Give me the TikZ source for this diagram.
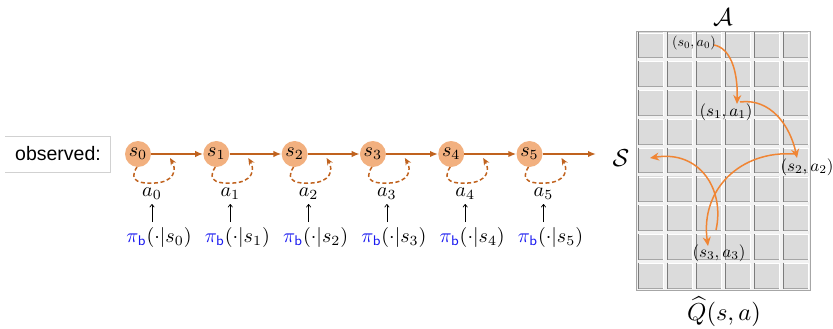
\documentclass[tikz,border=0pt]{standalone}
\usepackage{fontspec}
\newfontfamily\obsfont{Liberation Sans}
\usetikzlibrary{arrows.meta,calc}
\definecolor{chainc}{HTML}{C0621E}
\definecolor{nodefill}{HTML}{F2B07F}
\definecolor{gridarrow}{HTML}{F08534}
\definecolor{tile}{HTML}{DBDBDB}
\definecolor{tiledark}{HTML}{7C7C7C}
\definecolor{tilemid}{HTML}{A6A6A6}
\definecolor{pibl}{HTML}{1A1AF0}
\newcommand{\Bm}[1]{\scalebox{2.0}{$#1$}}
\newcommand{\Lm}[1]{\scalebox{2.45}{$#1$}}
\newcommand{\Gm}[1]{\scalebox{1.7}{$#1$}}
\newcommand{\Gs}[1]{\scalebox{1.4}{$#1$}}
\tikzset{
  state/.style={circle,fill=nodefill,minimum size=26pt,inner sep=0pt},
  lbl/.style={inner sep=1pt},
  chain/.style={draw=chainc,line width=1.7pt,-{Latex[length=8pt,width=6.5pt]}},
  selfloop/.style={draw=chainc,line width=1.5pt,dash pattern=on 4pt off 2.6pt,-{Stealth[length=7pt,width=6pt]}},
  uparr/.style={draw=black,line width=0.7pt,-{To[length=3.5pt,width=5pt]}},
  garrow/.style={draw=gridarrow,line width=1.5pt,-{Stealth[length=9pt,width=8pt]}},
}
\begin{document}
\begin{tikzpicture}[x=1pt,y=-1pt]
\useasboundingbox (0,0) rectangle (833,329);
% observed box
\node[font=\obsfont\fontsize{19.5}{22}\selectfont,inner sep=0pt] (obs) at (58,154) {observed:};
\draw[draw=black!18,line width=0.8pt] (5,136) -- (110,136) -- (110,172) -- (5,172);
% chain
\foreach \i/\x in {0/138,1/216.3,2/294.6,3/372.9,4/451.2,5/529.5}{
  \node[state] (s\i) at (\x,154) {\Bm{s_{\i}}};
  \node[lbl] (a\i) at (\x+14,194) {\Bm{a_{\i}}};
  \node[lbl] (p\i) at (\x+21,237) {\Bm{\textcolor{pibl}{\pi_{\mathsf{b}}}(\cdot|s_{\i})}};
  \coordinate (pt\i) at (\x+14,222);
  \draw[uparr] (pt\i) -- (\x+14,204);
  \coordinate (lp\i) at (\x+32,158);
  \draw[selfloop] ($(s\i)+(-1,13)$) .. controls ($(s\i)+(-11,28)$) and ($(s\i)+(4,30)$) .. ($(s\i)+(17,29)$) .. controls ($(s\i)+(36,28)$) and ($(s\i)+(39,16)$) .. (lp\i);
}
\coordinate (send) at (596,154);
\draw[chain] (s0) -- (s1);
\draw[chain] (s1) -- (s2);
\draw[chain] (s2) -- (s3);
\draw[chain] (s3) -- (s4);
\draw[chain] (s4) -- (s5);
\draw[chain] (s5) -- (send);
% grid
\fill[black!5] (636,31) rectangle (810,290);
\foreach \c in {0,...,5}{
  \foreach \r in {0,...,8}{
    \pgfmathsetmacro{\xa}{636+29*\c}
    \pgfmathsetmacro{\ya}{31+28.78*\r}
    \fill[tile] (\xa+1.5,\ya+1.5) rectangle (\xa+27.5,\ya+27.3);
    \draw[white,line width=0.8pt] (\xa+3,\ya+2) -- (\xa+27.5,\ya+2);
    \draw[tilemid,line width=1pt] (\xa+2,\ya+26.8) -- (\xa+27.5,\ya+26.8);
    \draw[tiledark,line width=1.6pt] (\xa+2.3,\ya+1.5) -- (\xa+2.3,\ya+27.3);
    \draw[white,line width=0.7pt] (\xa+27.5,\ya+1.5) -- (\xa+27.5,\ya+27.3);
  }
}
\draw[tilemid,line width=0.8pt] (636,31) rectangle (810,290);
% axis labels
\node[lbl] (A) at (723,17) {\Lm{\mathcal{A}}};
\node[lbl] (S) at (621,158) {\Lm{\mathcal{S}}};
\node[lbl] (Q) at (724,312) {\Lm{\widehat{Q}(s,a)}};
% grid labels
\node[lbl] (q0) at (694,43) {\Gs{(s_0,a_0)}};
\node[lbl] (q1) at (726,112) {\Gm{(s_1,a_1)}};
\node[lbl] (q2) at (807,167) {\Gm{(s_2,a_2)}};
\node[lbl] (q3) at (719,253) {\Gm{(s_3,a_3)}};
\coordinate (g0s) at (714,45);
\coordinate (g1) at (737,104);
\coordinate (g1s) at (740,102);
\coordinate (g2) at (797,158);
\coordinate (g2s) at (795,154);
\coordinate (g3) at (708,246);
\coordinate (g4s) at (716,230);
\coordinate (g4) at (650,158);
\draw[garrow] (g0s) .. controls (730,48) and (738,70) .. (g1);
\draw[garrow] (g1s) .. controls (770,98) and (790,125) .. (g2);
\draw[garrow] (g2s) .. controls (740,150) and (700,190) .. (g3);
\draw[garrow] (g4s) .. controls (725,190) and (700,150) .. (g4);
\end{tikzpicture}
\end{document}
